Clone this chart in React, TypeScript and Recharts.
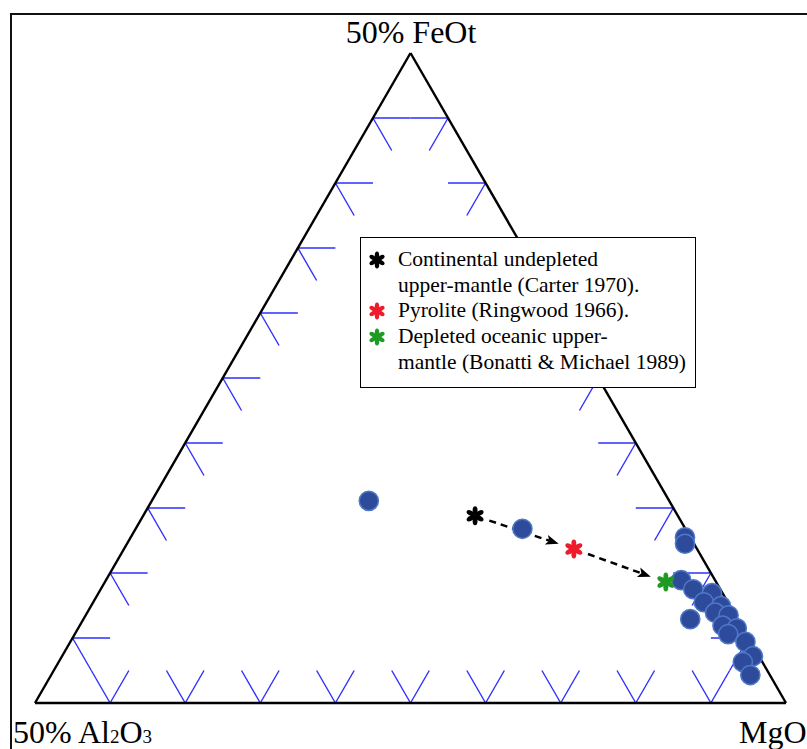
import React from 'react';
import { ScatterChart, Scatter, XAxis, YAxis, ReferenceLine } from 'recharts';

const H = Math.sqrt(3) / 2;

// sample compositions, normalised to the plotted triangle (%)
const feot  = [31.1, 26.8, 25.5, 24.5, 18.9, 17.5, 16.9, 15.5, 14.9, 13.9, 12.9, 13.5, 11.9, 11.5, 10.6, 9.4, 7.2, 6.3, 4.3];
const al2o3 = [40.0, 21.7, 0.7, 1.2, 4.5, 3.6, 1.4, 3.2, 1.2, 2.5, 6.3, 0.9, 2.5, 0.8, 2.4, 0.7, 0.8, 2.6, 2.6];
const mgo   = [28.9, 51.5, 73.8, 74.3, 76.6, 78.9, 81.7, 81.3, 83.9, 83.6, 80.8, 85.6, 85.6, 87.7, 87.0, 89.9, 92.0, 91.1, 93.1];

// reference mantle compositions (same normalisation)
const refFeot  = [28.8, 23.7, 18.6];
const refAl2o3 = [27.0, 16.4, 6.7];
const refMgo   = [44.2, 59.9, 74.7];
const refColors = ['#000000', '#ee1b2d', '#1f9a22'];

const legendLines = [
  ['Continental undepleted', 'upper-mantle (Carter 1970).'],
  ['Pyrolite (Ringwood 1966).'],
  ['Depleted oceanic upper-', 'mantle (Bonatti & Michael 1989)'],
];

const gridSteps = [0.1, 0.2, 0.3, 0.4, 0.5, 0.6, 0.7, 0.8, 0.9];
const TICK = 0.05;

const toXY = (fe: number, al: number, mg: number) => {
  const s = fe + al + mg;
  const t = fe / s, m = mg / s;
  return { x: m + t / 2, y: t * H };
};

const samples = feot.map((f, i) => toXY(f, al2o3[i], mgo[i]));
const refs = refFeot.map((f, i) => toXY(f, refAl2o3[i], refMgo[i]));

type Pt = { x: number; y: number };
const ticks: [Pt, Pt][] = [];
gridSteps.forEach(s => {
  const l = { x: 0.5 * s, y: H * s };
  ticks.push([l, { x: l.x + TICK, y: l.y }], [l, { x: l.x + TICK / 2, y: l.y - TICK * H }]);
  const r = { x: 1 - 0.5 * s, y: H * s };
  ticks.push([r, { x: r.x - TICK, y: r.y }], [r, { x: r.x - TICK / 2, y: r.y - TICK * H }]);
  const b = { x: s, y: 0 };
  ticks.push([b, { x: b.x - TICK / 2, y: TICK * H }], [b, { x: b.x + TICK / 2, y: TICK * H }]);
});

const corners: Pt[] = [{ x: 0, y: 0 }, { x: 1, y: 0 }, { x: 0.5, y: H }];
const edges: [Pt, Pt][] = [[corners[0], corners[1]], [corners[1], corners[2]], [corners[2], corners[0]]];

const Asterisk = ({ cx, cy, color, r }: { cx: number; cy: number; color: string; r: number }) => (
  <g>
    {[90, 30, 150, 270, 210, 330].map(a => {
      const rad = (a * Math.PI) / 180;
      const ex = cx + Math.cos(rad) * r * 0.55, ey = cy - Math.sin(rad) * r * 0.55;
      return (
        <ellipse key={a} cx={ex} cy={ey} rx={r * 0.45} ry={r * 0.26} fill={color}
          transform={`rotate(${-a} ${ex} ${ey})`} />
      );
    })}
    <circle cx={cx} cy={cy} r={r * 0.2} fill={color} />
  </g>
);

const Dot = (p: any) => (
  <circle cx={p.cx} cy={p.cy} r={9.6} fill="#2e4b9b" stroke="#4f78c6" strokeWidth={1.5} />
);

const Arrow = (p: any) => {
  const { x1, y1, x2, y2 } = p;
  const dx = x2 - x1, dy = y2 - y1;
  const len = Math.hypot(dx, dy);
  const ux = dx / len, uy = dy / len;
  const sx = x1 + ux * 15, sy = y1 + uy * 15;
  const tx = x2 - ux * 16, ty = y2 - uy * 16;
  const bx = tx - ux * 13, by = ty - uy * 13;
  const mx = tx - ux * 10, my = ty - uy * 10;
  return (
    <g>
      <line x1={sx} y1={sy} x2={mx} y2={my} stroke="#000" strokeWidth={2.5} strokeDasharray="7 5" />
      <polygon
        points={`${tx},${ty} ${bx - uy * 5},${by + ux * 5} ${mx},${my} ${bx + uy * 5},${by - ux * 5}`}
        fill="#000"
      />
    </g>
  );
};

const label: React.CSSProperties = { position: 'absolute', fontSize: 32, lineHeight: '32px', whiteSpace: 'nowrap', color: '#000' };
const sub: React.CSSProperties = { fontSize: 19 };

export default function App() {
  return (
    <div style={{ position: 'absolute', left: 0, top: 0, width: 807, height: 749, overflow: 'hidden', background: '#fff',
      fontFamily: '"Liberation Serif", "Times New Roman", serif' }}>
      <div style={{ position: 'absolute', left: 10, top: 13, width: 820, height: 760, borderTop: '2px solid #111', borderLeft: '2px solid #111' }} />
      <ScatterChart width={807} height={749} margin={{ top: 53, right: 21, bottom: 46, left: 35 }}>
        <XAxis type="number" dataKey="x" domain={[0, 1]} hide allowDataOverflow />
        <YAxis type="number" dataKey="y" domain={[0, H]} hide allowDataOverflow />
        {ticks.map((s, i) => (
          <ReferenceLine key={'t' + i} segment={s} stroke="#2e2eff" strokeWidth={1.4} ifOverflow="visible" />
        ))}
        {edges.map((s, i) => (
          <ReferenceLine key={'e' + i} segment={s} stroke="#000" strokeWidth={2.4} ifOverflow="visible" />
        ))}
        <ReferenceLine segment={[refs[0], refs[1]]} shape={Arrow} ifOverflow="visible" />
        <ReferenceLine segment={[refs[1], refs[2]]} shape={Arrow} ifOverflow="visible" />
        <Scatter data={samples} shape={Dot} isAnimationActive={false} />
        {refs.map((r, i) => (
          <Scatter key={'r' + i} data={[r]} isAnimationActive={false}
            shape={(p: any) => <Asterisk cx={p.cx} cy={p.cy} color={refColors[i]} r={9.5} />} />
        ))}
      </ScatterChart>

      <div style={{ ...label, left: 0, width: 822, textAlign: 'center', top: 16 }}>50% FeOt</div>
      <div style={{ ...label, left: 13, top: 716 }}>50% Al<span style={sub}>2</span>O<span style={sub}>3</span></div>
      <div style={{ ...label, left: 739, top: 716 }}>MgO</div>

      <div style={{ position: 'absolute', left: 360, top: 237, width: 334, height: 140, border: '1.5px solid #000',
        background: '#fff', fontSize: 21.5, lineHeight: '25.7px', paddingTop: 9, boxSizing: 'content-box' }}>
        {legendLines.map((lines, i) => (
          <div key={i} style={{ position: 'relative', paddingLeft: 37 }}>
            <svg width={22} height={22} style={{ position: 'absolute', left: 5, top: 2 }}>
              <Asterisk cx={11} cy={11} color={refColors[i]} r={8.5} />
            </svg>
            {lines.map((t, j) => <div key={j} style={{ whiteSpace: 'nowrap' }}>{t}</div>)}
          </div>
        ))}
      </div>
    </div>
  );
}
